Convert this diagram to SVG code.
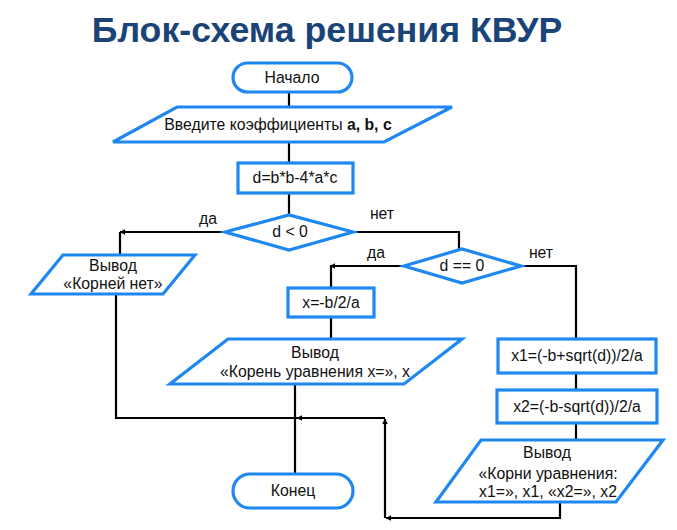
<svg xmlns="http://www.w3.org/2000/svg" width="677" height="530" viewBox="0 0 677 530">
<defs>
<style>
.s{fill:#fff;stroke:#1E88F0;stroke-width:3.2}
.t{font-family:"Liberation Sans",Arial,sans-serif;font-size:15.8px;fill:#111;text-anchor:middle}
.c{fill:none;stroke:#000;stroke-width:2.2}
.title{font-family:"Liberation Sans",Arial,sans-serif;font-size:35.7px;font-weight:bold;fill:#1A4478;text-anchor:middle}
</style>
<marker id="a" viewBox="0 0 10 10" refX="9" refY="5" markerWidth="6" markerHeight="6" orient="auto" markerUnits="userSpaceOnUse"><path d="M0,0 L10,5 L0,10 z" fill="#000"/></marker>
</defs>
<rect width="677" height="530" fill="#fff"/>
<text class="title" x="327" y="42">Блок-схема решения КВУР</text>
<g id="connectors">
<path class="c" d="M289,92 V107"/>
<path class="c" d="M289,142 V163"/>
<path class="c" d="M289,193 V215"/>
<path class="c" d="M225,232 H120" marker-end="url(#a)"/>
<path class="c" d="M120,232 V255"/>
<path class="c" d="M353,232 H459 V249"/>
<path class="c" d="M406,266 H330" marker-end="url(#a)"/>
<path class="c" d="M331,266 V288"/>
<path class="c" d="M521,266 H576 V339"/>
<path class="c" d="M576,373 V390"/>
<path class="c" d="M576,423 V440"/>
<path class="c" d="M331,317 V339"/>
<path class="c" d="M116,294 V418 H385"/>
<path class="c" d="M385,418 H297" marker-end="url(#a)"/>
<path class="c" d="M295,384 V474"/>
<path class="c" d="M560,502 V518 H386" marker-end="url(#a)"/>
<path class="c" d="M385,518 V419" marker-end="url(#a)"/>
</g>
<g id="start"><rect class="s" x="233" y="63" width="119" height="29" rx="14.5"/><text class="t" x="292" y="83">Начало</text></g>
<g id="input"><polygon class="s" points="177,107 452,107 384,142 113,142"/><text class="t" x="278" y="130">Введите коэффициенты <tspan font-weight="bold">a, b, c</tspan></text></g>
<g id="calc-d"><rect class="s" x="238" y="163" width="115" height="30"/><text class="t" x="295" y="183">d=b*b-4*a*c</text></g>
<g id="cond1"><polygon class="s" points="225,232 289,215 353,232 289,250"/><text class="t" x="290" y="237">d &lt; 0</text></g>
<text class="t" x="208" y="224">да</text>
<text class="t" x="382" y="219">нет</text>
<g id="out-none"><polygon class="s" points="63,255 195,255 163,294 31,294"/><text class="t" x="113" y="271">Вывод</text><text class="t" x="113" y="289">«Корней нет»</text></g>
<g id="cond2"><polygon class="s" points="404,266 462,249 521,266 462,283"/><text class="t" x="462" y="271">d == 0</text></g>
<text class="t" x="376" y="258">да</text>
<text class="t" x="541" y="258">нет</text>
<g id="calc-x"><rect class="s" x="288" y="288" width="86" height="29"/><text class="t" x="331" y="308">x=-b/2/a</text></g>
<g id="out-one"><polygon class="s" points="228,339 462,339 404,384 170,384"/><text class="t" x="315" y="358">Вывод</text><text class="t" x="315" y="377">«Корень уравнения x=», x</text></g>
<g id="calc-x1"><rect class="s" x="498" y="339" width="158" height="34"/><text class="t" x="577" y="361">x1=(-b+sqrt(d))/2/a</text></g>
<g id="calc-x2"><rect class="s" x="497" y="390" width="160" height="33"/><text class="t" x="577" y="412">x2=(-b-sqrt(d))/2/a</text></g>
<g id="out-two"><polygon class="s" points="481,440 663,440 616,502 436,502"/><text class="t" x="547" y="458">Вывод</text><text class="t" x="548" y="479">«Корни уравнения:</text><text class="t" x="548" y="497">x1=», x1, «x2=», x2</text></g>
<g id="end"><rect class="s" x="233" y="474" width="120" height="34" rx="17"/><text class="t" x="293" y="496">Конец</text></g>
</svg>
